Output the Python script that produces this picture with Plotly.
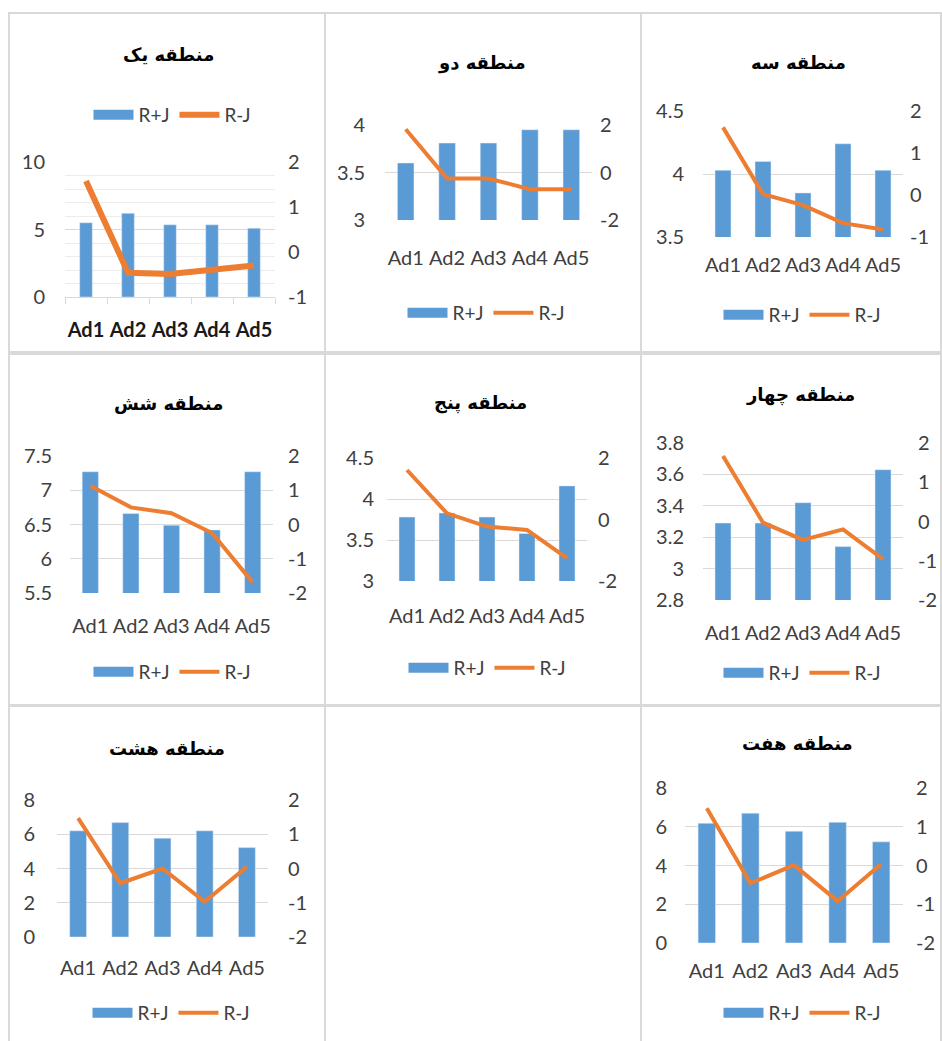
import plotly.graph_objects as go

# ---------------- data ----------------
categories = ["Ad1", "Ad2", "Ad3", "Ad4", "Ad5"]
series_names = ["R+J", "R-J"]
titles = ["منطقه یک", "منطقه دو", "منطقه سه", "منطقه شش",
          "منطقه پنج", "منطقه چهار", "منطقه هشت", "منطقه هفت"]

r1_plus = [5.5, 6.2, 5.35, 5.35, 5.1]
r1_minus = [1.58, -0.46, -0.49, -0.4, -0.3]
r2_plus = [3.6, 3.81, 3.81, 3.95, 3.95]
r2_minus = [1.82, -0.25, -0.25, -0.7, -0.7]
r3_plus = [4.03, 4.1, 3.85, 4.24, 4.03]
r3_minus = [1.61, 0.02, -0.24, -0.67, -0.82]
r6_plus = [7.27, 6.66, 6.49, 6.42, 7.27]
r6_minus = [1.13, 0.5, 0.33, -0.25, -1.69]
r5_plus = [3.78, 3.83, 3.78, 3.58, 4.16]
r5_minus = [1.61, 0.2, -0.23, -0.34, -1.26]
r4_plus = [3.29, 3.29, 3.42, 3.14, 3.63]
r4_minus = [1.67, -0.03, -0.47, -0.2, -0.96]
r8_plus = [6.2, 6.68, 5.77, 6.2, 5.22]
r8_minus = [1.47, -0.43, 0.0, -0.97, 0.05]
r7_plus = [6.18, 6.7, 5.77, 6.23, 5.22]
r7_minus = [1.48, -0.46, 0.01, -0.92, 0.04]

plus_series = [r1_plus, r2_plus, r3_plus, r6_plus, r5_plus, r4_plus, r8_plus, r7_plus]
minus_series = [r1_minus, r2_minus, r3_minus, r6_minus, r5_minus, r4_minus, r8_minus, r7_minus]

left_ticks = [[0, 5, 10], [3, 3.5, 4], [3.5, 4, 4.5], [5.5, 6, 6.5, 7, 7.5],
              [3, 3.5, 4, 4.5], [2.8, 3, 3.2, 3.4, 3.6, 3.8], [0, 2, 4, 6, 8], [0, 2, 4, 6, 8]]
left_labels = [["0", "5", "10"], ["3", "3.5", "4"], ["3.5", "4", "4.5"],
               ["5.5", "6", "6.5", "7", "7.5"], ["3", "3.5", "4", "4.5"],
               ["2.8", "3", "3.2", "3.4", "3.6", "3.8"], ["0", "2", "4", "6", "8"],
               ["0", "2", "4", "6", "8"]]
right_ticks = [[-1, 0, 1, 2], [-2, 0, 2], [-1, 0, 1, 2], [-2, -1, 0, 1, 2],
               [-2, 0, 2], [-2, -1, 0, 1, 2], [-2, -1, 0, 1, 2], [-2, -1, 0, 1, 2]]
right_labels = [["-1", "0", "1", "2"], ["-2", "0", "2"], ["-1", "0", "1", "2"],
                ["-2", "-1", "0", "1", "2"], ["-2", "0", "2"], ["-2", "-1", "0", "1", "2"],
                ["-2", "-1", "0", "1", "2"], ["-2", "-1", "0", "1", "2"]]

# ---------------- layout of panels (pixels) ----------------
W, H = 942, 1041
panels = [
    dict(x=(65, 275), y=(162, 297), title=(168, 55), legend=(172, 115), xgap=28, lgap=22, rgap=15, bw=0.3, lw=6, bold=True),
    dict(x=(385, 592), y=(125, 220), title=(482, 63), legend=(486, 313), xgap=37, lgap=22, rgap=10, bw=0.4, lw=4, bold=False),
    dict(x=(703, 903), y=(111, 237), title=(798, 62), legend=(802, 315), xgap=27, lgap=21, rgap=9, bw=0.4, lw=4, bold=False),
    dict(x=(70, 273), y=(456, 593), title=(168, 403), legend=(172, 672), xgap=32, lgap=20, rgap=17, bw=0.4, lw=4, bold=False),
    dict(x=(387, 587), y=(458, 581), title=(480, 403), legend=(487, 668), xgap=34, lgap=15, rgap=13, bw=0.4, lw=4, bold=False),
    dict(x=(703, 903), y=(443, 600), title=(800, 395), legend=(802, 673), xgap=32, lgap=21, rgap=17, bw=0.4, lw=4, bold=False),
    dict(x=(57, 268), y=(800, 937), title=(167, 748), legend=(171, 1013), xgap=30, lgap=24, rgap=22, bw=0.4, lw=4, bold=False),
    dict(x=(685, 903), y=(788, 943), title=(797, 743), legend=(802, 1013), xgap=27, lgap=20, rgap=15, bw=0.4, lw=4, bold=False),
]
frames = [
    (9, 13, 325, 352), (325, 13, 641, 352), (641, 13, 941, 352),
    (9, 354, 325, 705), (325, 354, 641, 705), (641, 354, 941, 705),
    (9, 706, 325, 1045), (325, 706, 641, 1045), (641, 706, 941, 1045),
]

BAR = "#5B9BD5"
LINE = "#ED7D31"
GRID = "#d9d9d9"
TXT = "#404040"
FONT = "Lato"


def fx(p):
    return p / W


def fy(p):
    return 1 - p / H


fig = go.Figure()
layout = dict(
    width=W, height=H, margin=dict(l=0, r=0, t=0, b=0, pad=0, autoexpand=False),
    paper_bgcolor="white", plot_bgcolor="white", showlegend=True,
    font=dict(family=FONT, color=TXT, size=20),
)
annotations = []
shapes = []

for i, p in enumerate(panels):
    n = i + 1
    xa = "x" if n == 1 else f"x{n}"
    yl = 2 * n - 1
    yr = 2 * n
    yla = "y" if yl == 1 else f"y{yl}"
    yra = f"y{yr}"
    leg = "legend" if n == 1 else f"legend{n}"

    fig.add_trace(go.Bar(
        x=categories, y=plus_series[i], name=series_names[0], marker_color=BAR,
        width=p["bw"], xaxis=xa, yaxis=yla, legend=leg, showlegend=False,
    ))
    # legend proxy for the bar series (wide swatch like the original legend)
    fig.add_trace(go.Scatter(
        x=[None], y=[None], name=series_names[0], mode="lines",
        line=dict(color=BAR, width=12), xaxis=xa, yaxis=yla, legend=leg,
    ))
    fig.add_trace(go.Scatter(
        x=categories, y=minus_series[i], name=series_names[1], mode="lines",
        line=dict(color=LINE, width=p["lw"]), xaxis=xa, yaxis=yra, legend=leg,
    ))

    xkey = "xaxis" if n == 1 else f"xaxis{n}"
    ylkey = "yaxis" if yl == 1 else f"yaxis{yl}"
    yrkey = f"yaxis{yr}"
    xfont = dict(family=FONT, size=20, color="#1a1a1a" if p["bold"] else TXT,
                 weight="bold" if p["bold"] else "normal")
    layout[xkey] = dict(
        domain=[fx(p["x"][0]), fx(p["x"][1])], anchor=yla, type="category",
        categoryorder="array", categoryarray=categories,
        range=[-0.5, 4.5], showgrid=False, zeroline=False, tickangle=0,
        tickfont=xfont, ticklabelstandoff=p["xgap"] - 13,
        showline=p["bold"], linecolor=GRID, linewidth=1,
        ticks="outside" if p["bold"] else "", tickson="boundaries",
        ticklen=6, tickcolor=GRID, fixedrange=True,
    )
    lt = left_ticks[i]
    ydict = dict(
        domain=[fy(p["y"][1]), fy(p["y"][0])], anchor=xa, side="left",
        range=[lt[0], lt[-1]], tickmode="array", tickvals=lt, ticktext=left_labels[i],
        showgrid=True, gridcolor=GRID, gridwidth=1, zeroline=False, showline=False,
        tickfont=dict(family=FONT, size=20, color=TXT), ticklabelstandoff=p["lgap"] - 3,
    )
    if p["bold"]:
        ydict["minor"] = dict(tickmode="linear", tick0=0, dtick=1, showgrid=True,
                              gridcolor="#ececec", gridwidth=1)
    layout[ylkey] = ydict
    rt = right_ticks[i]
    layout[yrkey] = dict(
        domain=[fy(p["y"][1]), fy(p["y"][0])], anchor=xa, overlaying=yla, side="right",
        range=[rt[0], rt[-1]], tickmode="array", tickvals=rt, ticktext=right_labels[i],
        showgrid=False, zeroline=False, showline=False,
        tickfont=dict(family=FONT, size=20, color=TXT), ticklabelstandoff=p["rgap"] - 3,
    )
    layout[leg] = dict(
        x=fx(p["legend"][0]), y=fy(p["legend"][1]), xanchor="center", yanchor="middle",
        orientation="h", bgcolor="rgba(0,0,0,0)", font=dict(family=FONT, size=19, color=TXT),
        itemwidth=40, tracegroupgap=0,
    )
    annotations.append(dict(
        text=titles[i], x=fx(p["title"][0]), y=fy(p["title"][1]), xref="paper", yref="paper",
        xanchor="center", yanchor="middle", showarrow=False,
        font=dict(family="DejaVu Sans", size=18, color="black", weight="bold"),
    ))

for (x0, y0, x1, y1) in frames:
    shapes.append(dict(type="rect", xref="paper", yref="paper",
                       x0=fx(x0), x1=fx(x1), y0=fy(y1), y1=fy(y0),
                       line=dict(color=GRID, width=2), fillcolor="rgba(0,0,0,0)", layer="below"))

layout["annotations"] = annotations
layout["shapes"] = shapes
fig.update_layout(**layout)
fig.write_html("out.html")
